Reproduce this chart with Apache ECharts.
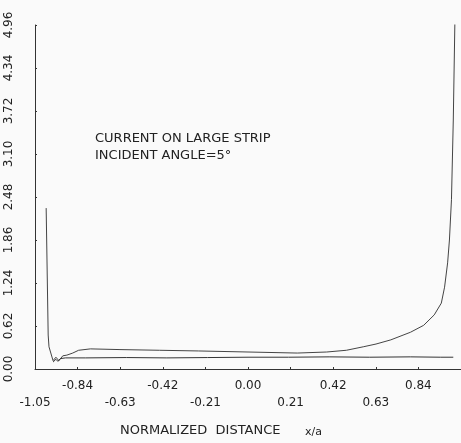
<!DOCTYPE html>
<html>
<head>
<meta charset="utf-8">
<script src="https://cdn.jsdelivr.net/npm/echarts@6/dist/echarts.min.js"></script>
<style>
  html, body { margin: 0; padding: 0; background: #fafafa; }
  #chart { width: 461px; height: 443px; }
</style>
</head>
<body>
<div id="chart"></div>
<script>
'use strict';

//axis ticks
var xTicks = [-1.05, -0.84, -0.63, -0.42, -0.21, 0.0, 0.21, 0.42, 0.63, 0.84, 1.05];
var yTicks = [0.0, 0.62, 1.24, 1.86, 2.48, 3.10, 3.72, 4.34, 4.96];

//upper curve (magnitude of current)
var upperX = [-0.995, -0.985, -0.981, -0.961, -0.947, -0.932, -0.913, -0.893, -0.864, -0.835,
  -0.777, -0.631, -0.437, -0.243, 0.0, 0.243, 0.388, 0.485, 0.568, 0.631, 0.704, 0.801,
  0.866, 0.918, 0.953, 0.969, 0.984, 0.993, 1.003, 1.012, 1.02];
var upperY = [2.32, 0.49, 0.32, 0.12, 0.17, 0.12, 0.19, 0.20, 0.23, 0.27,
  0.29, 0.28, 0.27, 0.26, 0.245, 0.23, 0.245, 0.27, 0.32, 0.36, 0.42, 0.53,
  0.63, 0.78, 0.95, 1.18, 1.53, 1.86, 2.44, 3.59, 5.03];

//middle curve, nearly flat
var middleX = [-0.961, -0.947, -0.937, -0.925, -0.90, -0.80, -0.60, -0.40, -0.20, 0.0,
  0.20, 0.40, 0.60, 0.80, 0.95, 1.012];
var middleY = [0.10, 0.14, 0.11, 0.15, 0.16, 0.16, 0.165, 0.16, 0.165, 0.17,
  0.17, 0.175, 0.17, 0.175, 0.17, 0.17];

var textFont = 'DejaVu Sans';

function pairs(xs, ys) {
  return xs.map(function(x, i) { return [x, ys[i]]; });
}

var chart = echarts.init(document.getElementById('chart'));

chart.setOption({
  backgroundColor: '#fafafa',
  animation: false,
  grid: { left: 35, right: -5, top: 25, bottom: 74 },
  xAxis: {
    type: 'value',
    min: xTicks[0],
    max: xTicks[xTicks.length - 1],
    interval: 0.21,
    splitLine: { show: false },
    axisLine: { onZero: false, lineStyle: { color: '#333', width: 1 } },
    axisTick: { inside: true, length: 2, lineStyle: { color: '#333' } },
    axisLabel: {
      showMaxLabel: false,
      margin: 8,
      color: '#222',
      fontFamily: textFont,
      fontSize: 12,
      lineHeight: 17,
      formatter: function(value) {
        var label = value.toFixed(2);
        var idx = Math.round((value - xTicks[0]) / 0.21);
        //alternate rows like the original plot
        return idx % 2 === 0 ? '\n' + label : label;
      }
    }
  },
  yAxis: {
    type: 'value',
    min: yTicks[0],
    max: yTicks[yTicks.length - 1],
    interval: 0.62,
    splitLine: { show: false },
    axisLine: { show: true, onZero: false, lineStyle: { color: '#333', width: 1 } },
    axisTick: { show: true, inside: true, length: 2, lineStyle: { color: '#333' } },
    axisLabel: {
      rotate: 90,
      margin: 20,
      color: '#222',
      fontFamily: textFont,
      fontSize: 12,
      formatter: function(value) { return value.toFixed(2); }
    }
  },
  graphic: [
    {
      type: 'text', left: 95, top: 132,
      style: { text: 'CURRENT ON LARGE STRIP', font: '13px "DejaVu Sans"', fill: '#222' }
    },
    {
      type: 'text', left: 95, top: 149,
      style: { text: 'INCIDENT ANGLE=5°', font: '13px "DejaVu Sans"', fill: '#222' }
    },
    {
      type: 'text', left: 120, top: 424,
      style: { text: 'NORMALIZED  DISTANCE', font: '13px "DejaVu Sans"', fill: '#222' }
    },
    {
      type: 'text', left: 305, top: 427,
      style: { text: 'x/a', font: '11px "DejaVu Sans"', fill: '#222' }
    }
  ],
  series: [
    {
      type: 'line',
      data: pairs(upperX, upperY),
      showSymbol: false,
      clip: true,
      lineStyle: { color: '#444', width: 1 }
    },
    {
      type: 'line',
      data: pairs(middleX, middleY),
      showSymbol: false,
      clip: true,
      lineStyle: { color: '#333', width: 1 }
    }
  ]
});
</script>
</body>
</html>
